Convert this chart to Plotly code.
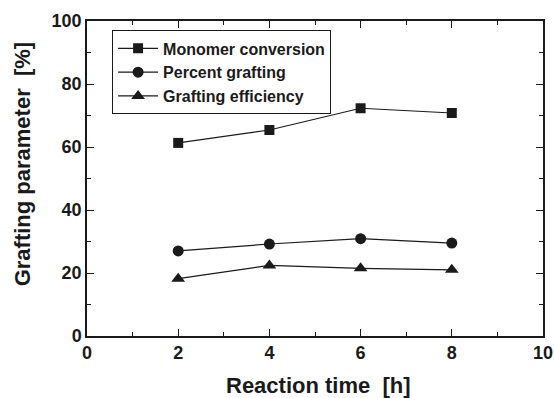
import plotly.graph_objects as go

time_h = [2, 4, 6, 8]
monomer_conversion = [61.3, 65.4, 72.3, 70.8]
percent_grafting = [27.0, 29.2, 30.9, 29.5]
grafting_efficiency = [18.2, 22.4, 21.5, 21.0]

series = [
    ("Monomer conversion", monomer_conversion, "square", 10),
    ("Percent grafting", percent_grafting, "circle", 11),
    ("Grafting efficiency", grafting_efficiency, "triangle-up", 12),
]

fig = go.Figure()
for name, vals, sym, sz in series:
    fig.add_trace(go.Scatter(
        x=time_h, y=vals, name=name, mode="lines+markers",
        line=dict(color="#1a1a1a", width=1.2),
        marker=dict(symbol=sym, size=sz, color="#1a1a1a"),
    ))

font_main = dict(family="Liberation Sans, Arial, sans-serif", color="#1a1a1a", weight="bold")

axis_common = dict(
    showline=True, linecolor="#1a1a1a", linewidth=1.5, mirror="ticks",
    ticks="inside", ticklen=7, tickwidth=1.2, tickcolor="#1a1a1a",
    showgrid=False, zeroline=False, automargin=False,
    tickfont=dict(size=18, **font_main),
)

fig.update_xaxes(
    range=[0, 10], tickvals=[0, 2, 4, 6, 8, 10],
    minor=dict(tickvals=[1, 3, 5, 7, 9], ticks="inside", ticklen=4, tickwidth=1.2, tickcolor="#1a1a1a"),
    **axis_common,
)
fig.update_yaxes(
    range=[0, 100], tickvals=[0, 20, 40, 60, 80, 100],
    minor=dict(tickvals=[10, 30, 50, 70, 90], ticks="inside", ticklen=4, tickwidth=1.2, tickcolor="#1a1a1a"),
    **axis_common,
)

fig.update_layout(
    width=554, height=398,
    margin=dict(l=87, r=11, t=21, b=62),
    paper_bgcolor="white", plot_bgcolor="white",
    showlegend=True,
    legend=dict(
        x=0.055, y=0.97, xanchor="left", yanchor="top",
        bordercolor="#1a1a1a", borderwidth=1, bgcolor="white",
        font=dict(size=16, **font_main),
        itemwidth=40, tracegroupgap=0,
    ),
    annotations=[
        dict(
            text="Grafting parameter\u00a0\u00a0[%]", textangle=-90,
            xref="paper", yref="paper", x=-0.1425, y=0.545,
            xanchor="center", yanchor="middle", showarrow=False,
            font=dict(size=22, **font_main),
        ),
        dict(
            text="Reaction time\u00a0\u00a0[h]",
            xref="paper", yref="paper", x=0.507, y=-0.158,
            xanchor="center", yanchor="middle", showarrow=False,
            font=dict(size=22, **font_main),
        ),
    ],
)

fig.write_html("out.html")
